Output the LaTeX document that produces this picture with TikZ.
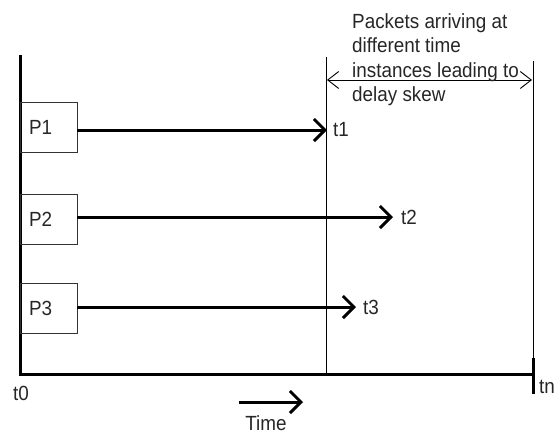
\documentclass[tikz,border=0pt]{standalone}
\usepackage{fontspec}
\setmainfont{Liberation Sans}[FakeStretch=0.92]
\usetikzlibrary{arrows.meta}
\begin{document}
\begin{tikzpicture}[x=1pt,y=-1pt,
  every node/.style={font=\fontsize{20.5}{24.5}\selectfont, text=black!85},
  axis/.style={line width=3pt},
  guide/.style={line width=0.9pt},
  pbox/.style={draw=black!80, line width=0.8pt, minimum height=50pt,
    text width=39pt, inner xsep=9pt, align=left},
  flow/.style={line width=3pt, -{Straight Barb[length=11pt,width=22pt,line width=3pt]}},
  skew/.style={line width=0.9pt, {Straight Barb[length=11pt,width=17pt,line width=0.9pt]}-{Straight Barb[length=11pt,width=17pt,line width=0.9pt]}},
  tlabel/.style={inner sep=0pt, anchor=west}]
  \useasboundingbox (0,0) rectangle (558,434);

  % axes
  \coordinate (top) at (20,55);
  \coordinate (O) at (20,374);
  \coordinate (end) at (533,374);
  \coordinate (tickA) at (533,358);
  \coordinate (tickB) at (533,394);
  \draw[axis] (top) -- (O) -- (end);
  \draw[axis] (tickA) -- (tickB);

  % guide lines bounding the skew interval
  \coordinate (mtop) at (326,57);
  \coordinate (mbot) at (326,374);
  \coordinate (rtop) at (533,61);
  \draw[guide] (mtop) -- (mbot);
  \draw[guide] (rtop) -- (end);

  \coordinate (s1) at (327,80);
  \coordinate (s2) at (532,80);
  \draw[skew] (s1) -- (s2);

  \node[anchor=north west, align=left, inner sep=0pt] (note) at (352,13)
    {Packets arriving at\\different time\\instances leading to\\delay skew};

  % packets
  \node[pbox] (P1) at (48.5,127) {P1};
  \node[pbox] (P2) at (48.5,219) {P2};
  \node[pbox] (P3) at (48.5,308) {P3};

  \node[tlabel, inner xsep=6pt, inner ysep=0pt] (t1) at (327,130) {t1};
  \node[tlabel, inner xsep=8pt, inner ysep=0pt] (t2) at (393,217) {t2};
  \node[tlabel, inner xsep=7pt, inner ysep=0pt] (t3) at (356,307) {t3};

  \draw[flow] (P1.east |- t1.west) -- (t1.west);
  \draw[flow] (P2.east |- t2.west) -- (t2.west);
  \draw[flow] (P3.east |- t3.west) -- (t3.west);

  % time markers
  \node[inner sep=0pt] (t0) at (21,393) {t0};
  \node[inner sep=0pt] (tn) at (547,387) {tn};

  \coordinate (ta) at (239,402);
  \coordinate (tb) at (303,402);
  \draw[flow] (ta) -- (tb);
  \node[inner sep=0pt] (time) at (266,423) {Time};
\end{tikzpicture}
\end{document}
